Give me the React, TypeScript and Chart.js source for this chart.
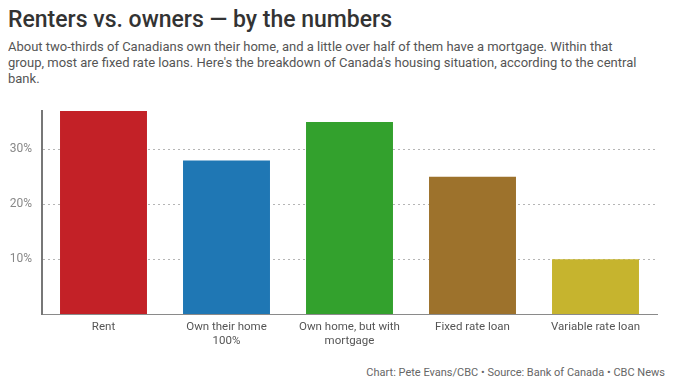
import React, { useEffect, useRef } from "react";
import { Chart, registerables } from "chart.js";

Chart.register(...registerables);

const categories: (string | string[])[] = [
  "Rent",
  ["Own their home", "100%"],
  ["Own home, but with", "mortgage"],
  "Fixed rate loan",
  "Variable rate loan",
];
const shares = [37, 28, 35, 25, 10];
const barColors = ["#c32127", "#1f77b4", "#33a12d", "#9d722c", "#c6b42e"];
const yTicks = [10, 20, 30];
const yMax = 37;

const title = "Renters vs. owners — by the numbers";
const subtitleLines = [
  "About two-thirds of Canadians own their home, and a little over half of them have a mortgage. Within that",
  "group, most are fixed rate loans. Here's the breakdown of Canada's housing situation, according to the central",
  "bank.",
];
const footer = "Chart: Pete Evans/CBC • Source: Bank of Canada • CBC News";

const FONT = "Roboto, 'Noto Sans', sans-serif";

export default function App() {
  const ref = useRef<HTMLCanvasElement | null>(null);

  useEffect(() => {
    if (!ref.current) return;
    const chart = new Chart(ref.current, {
      type: "bar",
      data: {
        labels: categories,
        datasets: [
          {
            data: shares,
            backgroundColor: barColors,
            categoryPercentage: 1,
            barPercentage: 0.707,
          },
        ],
      },
      options: {
        animation: false,
        responsive: true,
        maintainAspectRatio: false,
        layout: { padding: { top: 11, right: 18, left: 0, bottom: 0 } },
        plugins: {
          legend: { display: false },
          tooltip: { enabled: false },
        },
        scales: {
          x: {
            grid: { display: false, drawTicks: false },
            border: { display: true, color: "#8a8a8a", width: 1 },
            ticks: {
              color: "#555",
              padding: 6,
              maxRotation: 0,
              autoSkip: false,
              font: { family: FONT, size: 11.5 },
            },
            afterFit: (s: any) => {
              s.height = 36;
              s.paddingLeft = 0;
              s.paddingRight = 0;
            },
          },
          y: {
            min: 0,
            max: yMax,
            afterBuildTicks: (s: any) => {
              s.ticks = yTicks.map((v) => ({ value: v }));
            },
            grid: {
              color: "#b5b5b5",
              lineWidth: 1,
              drawTicks: false,
            },
            border: { display: true, color: "#777", width: 2, dash: [2, 3] },
            ticks: {
              color: "#888",
              padding: 10,
              font: { family: FONT, size: 12 },
              callback: (v: any) => v + "%",
            },
            afterFit: (s: any) => {
              s.width = 34;
              s.paddingTop = 0;
              s.paddingBottom = 0;
            },
          },
        },
      },
    });
    return () => chart.destroy();
  }, []);

  return (
    <div style={{ position: "relative", width: 667, height: 369, fontFamily: FONT }}>
      <div
        style={{
          position: "absolute",
          top: -1,
          left: 0,
          fontSize: 23,
          lineHeight: "26px",
          fontWeight: 500,
          color: "#333",
          whiteSpace: "nowrap",
        }}
      >
        {title}
      </div>
      <div
        style={{
          position: "absolute",
          top: 31,
          left: 0,
          fontSize: 13,
          lineHeight: "16px",
          color: "#555",
          whiteSpace: "nowrap",
        }}
      >
        {subtitleLines.map((l, i) => (
          <div key={i}>{l}</div>
        ))}
      </div>
      <div style={{ position: "absolute", top: 92, left: 0, width: 667, height: 250 }}>
        <canvas ref={ref} />
      </div>
      <div
        style={{
          position: "absolute",
          top: 358,
          right: 10,
          fontSize: 11,
          lineHeight: "14px",
          color: "#666",
          whiteSpace: "nowrap",
        }}
      >
        {footer}
      </div>
    </div>
  );
}
